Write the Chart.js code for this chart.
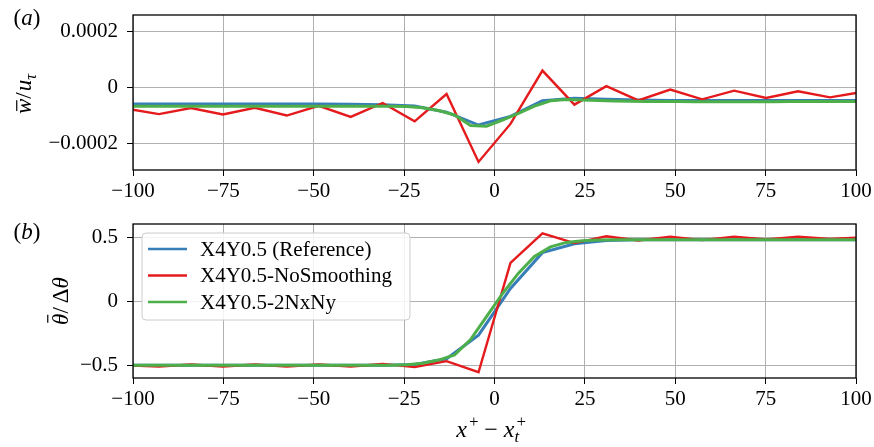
<!DOCTYPE html>
<html>
<head>
<meta charset="utf-8">
<script src="https://cdn.jsdelivr.net/npm/chart.js@4/dist/chart.umd.min.js"></script>
<style>
  html, body { margin: 0; padding: 0; background: #fff; }
  #wrap { position: relative; width: 874px; height: 447px; }
  canvas { position: absolute; left: 0; }
</style>
</head>
<body>
<div id="wrap">
  <canvas id="panelA" width="874" height="205" style="top:0"></canvas>
  <canvas id="panelB" width="874" height="242" style="top:205px"></canvas>
</div>
<script>
// grid positions (x+ - x_t+)
const xCoarse = [-101.66, -92.82, -83.98, -75.14, -66.30, -57.46, -48.62, -39.78, -30.94, -22.10, -13.26, -4.42,
  4.42, 13.26, 22.10, 30.94, 39.78, 48.62, 57.46, 66.30, 75.14, 83.98, 92.82, 101.66];
const xFine = [-103.87, -99.45, -95.03, -90.61, -86.19, -81.77, -77.35, -72.93, -68.51, -64.09, -59.67, -55.25,
  -50.83, -46.41, -41.99, -37.57, -33.15, -28.73, -24.31, -19.89, -15.47, -11.05, -6.63, -2.21,
  2.21, 6.63, 11.05, 15.47, 19.89, 24.31, 28.73, 33.15, 37.57, 41.99, 46.41, 50.83,
  55.25, 59.67, 64.09, 68.51, 72.93, 77.35, 81.77, 86.19, 90.61, 95.03, 99.45, 103.87];

// (a) w / u_tau  (values x 1e-5)
const wRef = [-5.9, -5.9, -5.9, -5.9, -5.9, -5.9, -5.9, -6.0, -6.1, -6.6, -8.8, -13.4,
  -10.3, -4.7, -3.8, -4.2, -4.4, -4.6, -4.6, -4.6, -4.6, -4.6, -4.6, -4.6];
const wNoSmooth = [-7.6, -9.5, -7.3, -9.6, -7.2, -10.0, -6.5, -10.5, -5.5, -12.1, -2.3, -26.6,
  -13.0, 6.1, -6.1, 0.5, -4.6, -0.7, -4.2, -1.1, -3.7, -1.3, -3.5, -1.6];
const w2NxNy = [-6.7, -6.7, -6.7, -6.7, -6.7, -6.7, -6.7, -6.7, -6.7, -6.7, -6.7, -6.7,
  -6.7, -6.7, -6.7, -6.7, -6.7, -6.7, -6.8, -7.2, -8.2, -9.8, -13.6, -13.8,
  -11.6, -9.2, -6.6, -4.7, -4.3, -4.4, -4.6, -4.8, -4.9, -5.0, -5.0, -5.0,
  -5.1, -5.1, -5.1, -5.1, -5.1, -5.1, -5.0, -5.0, -5.0, -5.0, -5.0, -5.0];

// (b) theta / delta theta
const thRef = [-0.5, -0.5, -0.5, -0.5, -0.5, -0.5, -0.5, -0.5, -0.5, -0.495, -0.45, -0.265,
  0.10, 0.38, 0.45, 0.475, 0.48, 0.48, 0.48, 0.48, 0.48, 0.48, 0.48, 0.48];
const thNoSmooth = [-0.50, -0.51, -0.495, -0.51, -0.495, -0.51, -0.495, -0.51, -0.49, -0.515, -0.468, -0.555,
  0.30, 0.53, 0.455, 0.508, 0.475, 0.505, 0.478, 0.505, 0.483, 0.504, 0.487, 0.50];
const th2NxNy = [-0.5, -0.5, -0.5, -0.5, -0.5, -0.5, -0.5, -0.5, -0.5, -0.5, -0.5, -0.5,
  -0.5, -0.5, -0.5, -0.5, -0.5, -0.5, -0.496, -0.485, -0.46, -0.42, -0.30, -0.12,
  0.06, 0.22, 0.35, 0.425, 0.46, 0.473, 0.478, 0.48, 0.48, 0.48, 0.48, 0.48,
  0.48, 0.48, 0.48, 0.48, 0.48, 0.48, 0.48, 0.48, 0.48, 0.48, 0.48, 0.48];

const xTicks = [-100, -75, -50, -25, 0, 25, 50, 75, 100];
const wTicks = [-0.0002, 0, 0.0002];
const thTicks = [-0.5, 0, 0.5];
const names = ['X4Y0.5 (Reference)', 'X4Y0.5-NoSmoothing', 'X4Y0.5-2NxNy'];
const colors = ['#377eb8', '#e41a1c', '#4daf4a'];

const serif = '"Liberation Serif", "Times New Roman", serif';

function pts(xs, ys, scale) {
  return xs.map((x, i) => ({ x: x, y: ys[i] * scale }));
}
function minus(s) { return s.replace('-', '\u2212'); }

// draw a small math-like label made of parts
function drawMath(ctx, parts, size) {
  const font = (it, s) => (it ? 'italic ' : '') + s + 'px ' + serif;
  const small = size * 0.7;
  let widths = parts.map(p => {
    ctx.font = font(p.it, size);
    let w = ctx.measureText(p.t).width;
    let extra = 0;
    ctx.font = font(p.it, small);
    if (p.sup) extra = Math.max(extra, ctx.measureText(p.sup).width);
    if (p.sub) extra = Math.max(extra, ctx.measureText(p.sub).width);
    return w + extra + (p.gap || 0);
  });
  const total = widths.reduce((a, b) => a + b, 0);
  let x = -total / 2;
  ctx.textBaseline = 'alphabetic';
  ctx.textAlign = 'left';
  ctx.fillStyle = '#000';
  ctx.strokeStyle = '#000';
  parts.forEach((p, i) => {
    ctx.font = font(p.it, size);
    const w = ctx.measureText(p.t).width;
    ctx.fillText(p.t, x, 0);
    if (p.bar) {
      ctx.lineWidth = 1.2;
      ctx.beginPath();
      ctx.moveTo(x + w * 0.2, -size * p.bar);
      ctx.lineTo(x + w * 0.9, -size * p.bar);
      ctx.stroke();
    }
    ctx.font = font(p.it, small);
    if (p.sup) ctx.fillText(p.sup, x + w + 1, -size * 0.42);
    if (p.sub) ctx.fillText(p.sub, x + w - (p.subShift || 0), size * 0.22);
    x += widths[i];
  });
}

function decorPlugin(cfg) {
  return {
    id: 'decor',
    afterDatasetsDraw(chart) {
      const ctx = chart.ctx;
      const a = chart.chartArea;
      ctx.save();
      ctx.strokeStyle = '#000';
      ctx.lineWidth = 1.3;
      ctx.strokeRect(a.left, a.top, a.right - a.left, a.bottom - a.top);
      ctx.restore();
    },
    afterDraw(chart) {
      const ctx = chart.ctx;
      // panel tag
      ctx.save();
      ctx.translate(cfg.tag.x, cfg.tag.y);
      drawMath(ctx, [{ t: '(' }, { t: cfg.tag.t, it: true }, { t: ')' }], 23);
      ctx.restore();
      // y label
      ctx.save();
      ctx.translate(cfg.ylab.x, cfg.ylab.y);
      ctx.rotate(-Math.PI / 2);
      drawMath(ctx, cfg.ylab.parts, 23);
      ctx.restore();
      if (cfg.xlab) {
        ctx.save();
        ctx.translate(cfg.xlab.x, cfg.xlab.y);
        drawMath(ctx, cfg.xlab.parts, 24);
        ctx.restore();
      }
      if (cfg.legend) {
        const L = cfg.legend;
        ctx.save();
        ctx.fillStyle = 'rgba(255,255,255,0.85)';
        ctx.strokeStyle = '#cccccc';
        ctx.lineWidth = 1;
        ctx.beginPath();
        ctx.roundRect(L.x, L.y, L.w, L.h, 4);
        ctx.fill();
        ctx.stroke();
        ctx.font = '21px ' + serif;
        ctx.textBaseline = 'middle';
        ctx.textAlign = 'left';
        names.forEach((n, i) => {
          const yy = L.y + 16 + i * 26.5;
          ctx.strokeStyle = colors[i];
          ctx.lineWidth = 2.6;
          ctx.beginPath();
          ctx.moveTo(L.x + 6, yy);
          ctx.lineTo(L.x + 45, yy);
          ctx.stroke();
          ctx.fillStyle = '#000';
          ctx.fillText(n, L.x + 58, yy + 1);
        });
        ctx.restore();
      }
    }
  };
}

function makeChart(id, sets, yTicks, yMin, yMax, fmt, topPad, xAxisH, cfg) {
  const tickFont = { family: serif, size: 21 };
  return new Chart(document.getElementById(id), {
    type: 'line',
    data: {
      datasets: sets.map((d, i) => ({
        label: names[i],
        data: d,
        borderColor: colors[i],
        borderWidth: i === 1 ? 2.4 : 3,
        pointRadius: 0,
        tension: 0,
        fill: false,
        order: 3 - i
      }))
    },
    options: {
      responsive: false,
      animation: false,
      events: [],
      layout: { padding: { left: 0, right: 18, top: topPad, bottom: 0 } },
      plugins: { legend: { display: false }, tooltip: { enabled: false } },
      scales: {
        x: {
          type: 'linear', min: -100, max: 100,
          afterBuildTicks: s => { s.ticks = xTicks.map(v => ({ value: v })); },
          afterFit: s => { s.height = xAxisH; s.paddingLeft = 0; s.paddingRight = 0; },
          grid: { color: '#b0b0b0', lineWidth: 1, tickColor: '#000', tickLength: 6 },
          border: { display: false },
          ticks: { font: tickFont, color: '#000', padding: 3, maxRotation: 0,
            callback: v => minus(String(v)) }
        },
        y: {
          type: 'linear', min: yMin, max: yMax,
          afterBuildTicks: s => { s.ticks = yTicks.map(v => ({ value: v })); },
          afterFit: s => { s.width = 133; s.paddingTop = 0; s.paddingBottom = 0; },
          grid: { color: '#b0b0b0', lineWidth: 1, tickColor: '#000', tickLength: 6 },
          border: { display: false },
          ticks: { font: tickFont, color: '#000', padding: 9, callback: v => fmt(v) }
        }
      }
    },
    plugins: [decorPlugin(cfg)]
  });
}

makeChart('panelA',
  [pts(xCoarse, wRef, 1e-5), pts(xCoarse, wNoSmooth, 1e-5), pts(xFine, w2NxNy, 1e-5)],
  wTicks, -0.000295, 0.00026,
  v => v === 0 ? '0' : minus(v.toFixed(4)),
  15, 35,
  {
    tag: { x: 27, y: 25, t: 'a' },
    ylab: { x: 31, y: 94, parts: [{ t: 'w', it: true, bar: 0.62 }, { t: '/', gap: 1 }, { t: 'u', it: true, sub: '\u03c4' }] }
  });

makeChart('panelB',
  [pts(xCoarse, thRef, 1), pts(xCoarse, thNoSmooth, 1), pts(xFine, th2NxNy, 1)],
  thTicks, -0.6, 0.604,
  v => v === 0 ? '0' : minus(v.toFixed(1)),
  19, 69,
  {
    tag: { x: 27, y: 34, t: 'b' },
    ylab: { x: 68, y: 96, parts: [{ t: '\u03b8', it: true, bar: 0.88 }, { t: '/', gap: 4 }, { t: '\u0394' }, { t: '\u03b8', it: true }] },
    xlab: { x: 491, y: 232, parts: [{ t: 'x', it: true, sup: '+', gap: 6 }, { t: '\u2212', gap: 6 }, { t: 'x', it: true, sup: '+', sub: 't', subShift: 0 }] },
    legend: { x: 142, y: 28, w: 268, h: 87 }
  });
</script>
</body>
</html>
